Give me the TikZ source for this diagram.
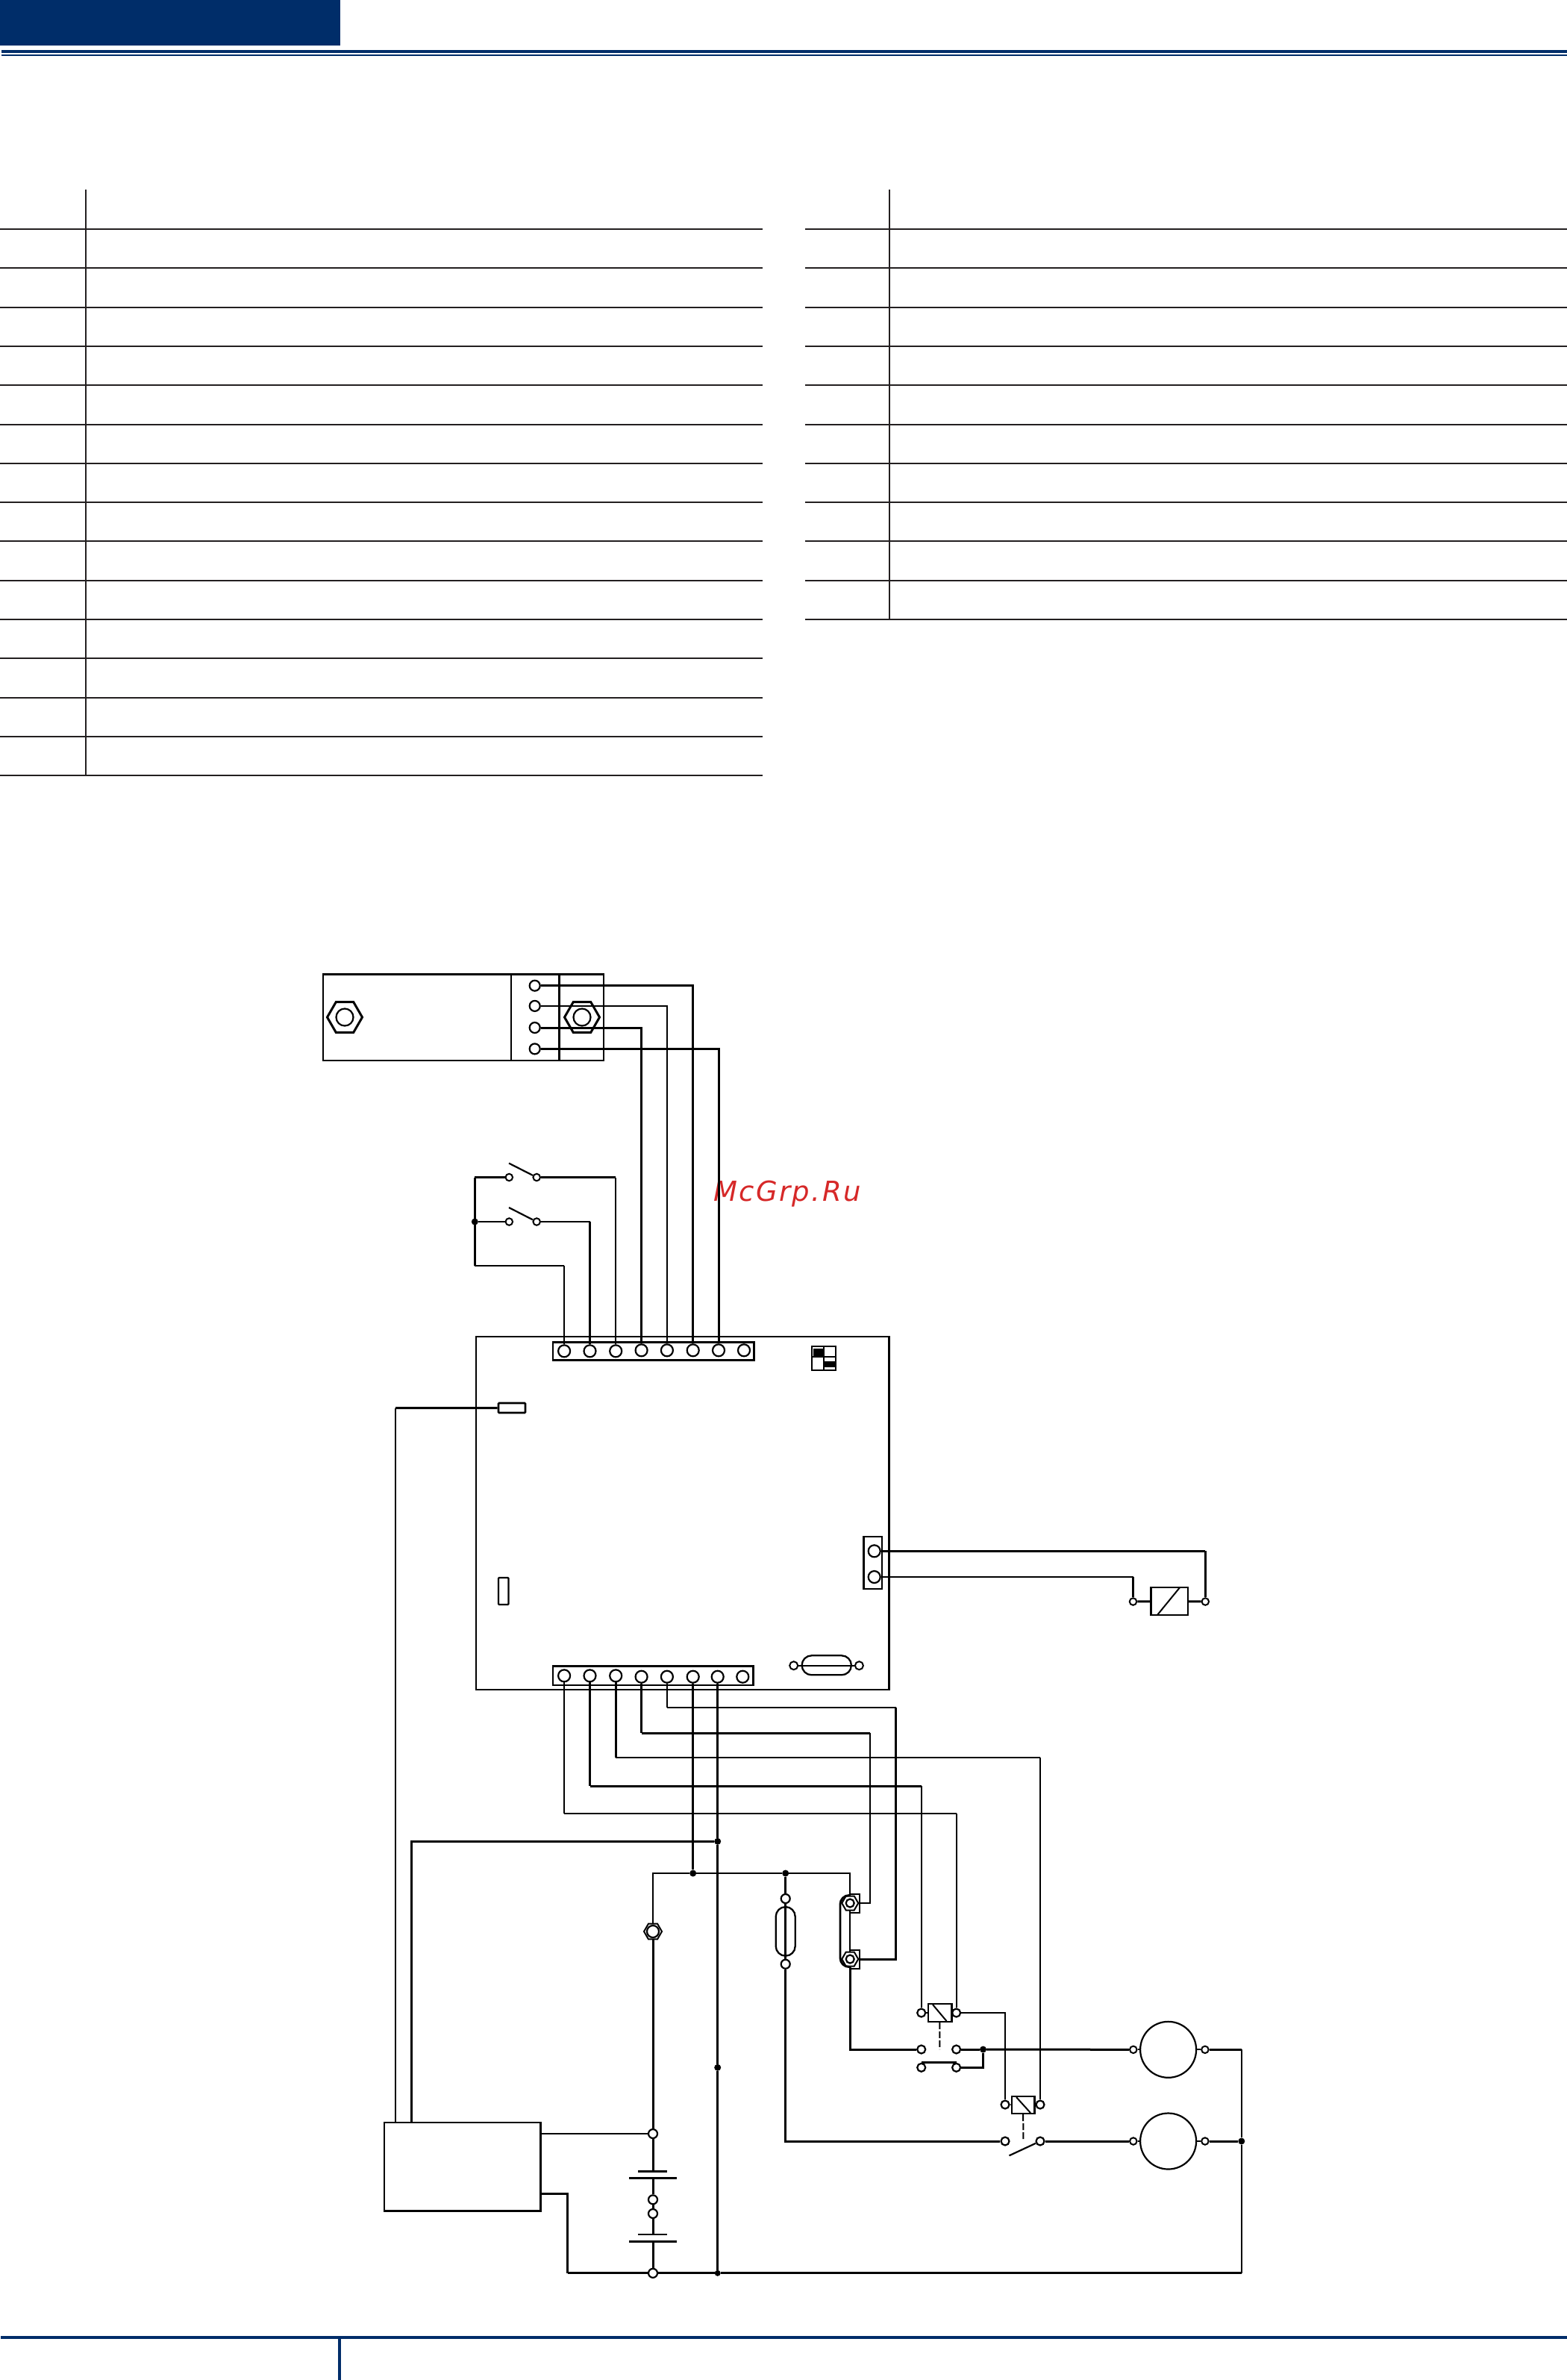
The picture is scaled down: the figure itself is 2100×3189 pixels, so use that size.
\documentclass[tikz,border=0pt]{standalone}
\usepackage{fontspec}
\usetikzlibrary{shapes.geometric,fit,calc}
\newfontfamily\wmfont[LetterSpace=6.5]{DejaVu Sans}
\definecolor{navy}{RGB}{0,45,105}
\definecolor{rule}{RGB}{35,31,32}
\definecolor{wm}{RGB}{214,40,40}
\tikzset{
  x=1pt,y=-1pt,
  thickw/.style={line width=3pt,line join=miter},
  medw/.style={line width=2.6pt,line join=miter},
  thinw/.style={line width=2pt,line join=miter},
  outline/.style={draw,line width=2.3pt,inner sep=0pt,fill=none},
  pinL/.style={circle,draw,line width=2.2pt,fill=white,inner sep=0pt,minimum size=16pt},
  pinM/.style={circle,draw,line width=2.2pt,fill=white,inner sep=0pt,minimum size=12pt},
  pinS/.style={circle,draw,line width=2pt,fill=white,inner sep=0pt,minimum size=9.5pt},
  junction/.style={circle,fill=black,inner sep=0pt,minimum size=9pt},
  hexnut/.style={regular polygon,regular polygon sides=6,draw,line width=3pt,inner sep=0pt},
  ring/.style={circle,draw,line width=2.2pt,inner sep=0pt},
  tableline/.style={draw=rule,line width=2pt},
  tablevert/.style={draw=rule,line width=1.3pt},
  linkdash/.style={line width=2pt,dash pattern=on 9pt off 3pt},
}
\begin{document}
\begin{tikzpicture}
\useasboundingbox (0,0) rectangle (2100,3189);
% page furniture
\fill[navy] (0,0) rectangle (456,61);
\fill[navy] (2,67) rectangle (2100,71);
\fill[navy] (2,73) rectangle (2100,75);
\fill[navy] (1,3130) rectangle (2100,3134);
\fill[navy] (453,3134) rectangle (457,3189);
% tables
\foreach \k in {0,...,14} {\draw[tableline] (0,307+52.3*\k) -- (1022,307+52.3*\k);}
\foreach \k in {0,...,10} {\draw[tableline] (1079,307+52.3*\k) -- (2100,307+52.3*\k);}
\draw[tablevert] (115,254) -- (115,1039);
\draw[tablevert] (1192,254) -- (1192,830);
% watermark
\node[text=wm,anchor=base west,inner sep=0pt] (mark) at (956,1609) {\fontsize{37}{37}\selectfont\wmfont\itshape McGrp.Ru};

% top-left unit
\node[outline,fit={(433,1305.4)(809,1421)}] (unit) {};
\draw[line width=2.3pt] (685,1305.4) -- (685,1421);
\draw[line width=2.3pt] (749.5,1305.4) -- (749.5,1421);
\node[hexnut,minimum size=47pt] (hexA) at (462,1363) {};
\node[ring,minimum size=23pt] (ringA) at (462,1363) {};
\node[hexnut,minimum size=47pt] (hexD) at (780,1363) {};
\node[ring,minimum size=23pt] (ringD) at (780,1363) {};
\node[pinL,minimum size=14pt] (u1) at (716.7,1320.7) {};
\node[pinL,minimum size=14pt] (u2) at (716.7,1347.9) {};
\node[pinL,minimum size=14pt] (u3) at (716.7,1377) {};
\node[pinL,minimum size=14pt] (u4) at (716.7,1405.4) {};

% switches
\node[pinS] (s1L) at (682.3,1577.5) {};
\node[pinS] (s1R) at (719.2,1577.5) {};
\node[pinS] (s2L) at (682.3,1637) {};
\node[pinS] (s2R) at (719.2,1637) {};
\node[junction] (busDot) at (636.3,1637) {};
\coordinate (busL) at (636.3,1696);
\coordinate (busT) at (636.3,1577.5);
\coordinate (cs1) at (825.2,1577.5);
\coordinate (cs2) at (790.5,1637);
\coordinate (cs3) at (756.1,1696);
\coordinate (blade1) at (682,1558.6);
\coordinate (blade2) at (682,1618);
\draw[line width=2.2pt] (blade1) -- (s1R);
\draw[line width=2.2pt] (blade2) -- (s2R);

% board
\node[outline,fit={(638,1791)(1191.4,2264)}] (board) {};
\node[outline,line width=2.6pt,fit={(741,1798.3)(1010.7,1822.7)}] (stripT) {};
\node[outline,line width=2.6pt,fit={(741,2232.3)(1009.3,2258)}] (stripB) {};
\node[pinL] (t1) at (756.1,1810.3) {};
\node[pinL] (t2) at (790.5,1810.3) {};
\node[pinL] (t3) at (825.2,1810.3) {};
\node[pinL] (t4) at (859.6,1809.3) {};
\node[pinL] (t5) at (893.9,1809.3) {};
\node[pinL] (t6) at (928.7,1809.3) {};
\node[pinL] (t7) at (963,1809.3) {};
\node[pinL] (t8) at (997,1809.3) {};
\node[pinL] (b1) at (756.1,2245.3) {};
\node[pinL] (b2) at (790.5,2245.3) {};
\node[pinL] (b3) at (825.2,2245.3) {};
\node[pinL] (b4) at (859.6,2246.7) {};
\node[pinL] (b5) at (893.9,2246.7) {};
\node[pinL] (b6) at (928.7,2246.7) {};
\node[pinL] (b7) at (961.7,2246.7) {};
\node[pinL] (b8) at (995.3,2246.7) {};
% dip switch
\fill (1090,1806.7) rectangle (1103.3,1816.7);
\fill (1104.7,1824) rectangle (1119,1832);
\node[outline,fit={(1088.2,1803.7)(1119.8,1836)}] (dip) {};
\draw[line width=2pt] (1104,1803.7) -- (1104,1836);
\draw[line width=2pt] (1088.2,1818.3) -- (1119.8,1818.3);
% board fuses and connector
\node[outline,line width=2.6pt,rounded corners=1pt,fit={(668,1880)(704,1893)}] (fuseH) {};
\node[outline,rounded corners=1pt,fit={(668,2114)(681.4,2150)}] (fuseV) {};
\node[outline,fit={(1157.4,2059)(1182.3,2128.7)}] (conn) {};
\node[pinL] (c1) at (1171.7,2078.3) {};
\node[pinL] (c2) at (1171.7,2113) {};
\node[outline,rounded corners=13pt,fit={(1074.6,2218.3)(1140.9,2244.3)}] (bodyH) {};
\node[pinS,minimum size=11pt] (bh1) at (1063.7,2231.7) {};
\node[pinS,minimum size=11pt] (bh2) at (1151.4,2231.7) {};
\draw[line width=1.9pt] (bh1) -- (bh2);

% external relay
\node[outline,fit={(1542.6,2127.3)(1592,2164)}] (rel0) {};
\draw[line width=2pt] (1550.9,2164) -- (1580.9,2127.3);
\node[pinS] (r0L) at (1518.5,2146) {};
\node[pinS] (r0R) at (1615.3,2146) {};

% control box and battery
\node[outline,line width=2.6pt,fit={(515,2844)(724.3,2962.3)}] (ctrl) {};
\coordinate (ct1) at (530,2844);
\coordinate (ct2) at (551.3,2844);
\coordinate (cf1) at (530,1886.7);
\coordinate (cr1) at (724.3,2859);
\coordinate (cr2) at (724.3,2939.7);
\coordinate (cz) at (760.7,3045.8);
\node[pinM] (batTop) at (875,2859) {};
\node[pinM] (batM1) at (875,2947.3) {};
\node[pinM] (batM2) at (875,2966) {};
\node[pinM] (batBot) at (875,3045.8) {};
\coordinate (pl1s) at (875,2909.3);
\coordinate (pl1l) at (875,2918.3);
\coordinate (pl2s) at (875,2994);
\coordinate (pl2l) at (875,3003.3);
\draw[line width=2.6pt] (855,2909.3) -- (894.3,2909.3);
\draw[line width=2.6pt] (843,2918.3) -- (906.7,2918.3);
\draw[line width=2pt] (855,2994) -- (894.3,2994);
\draw[line width=2.6pt] (843,3003.3) -- (906.7,3003.3);

% lower distribution
\node[junction] (dotR) at (961.7,2467.3) {};
\node[junction] (dotMid) at (961.7,2770.3) {};
\node[junction,minimum size=8pt] (gnd) at (961.7,3045.8) {};
\node[junction] (dotA) at (928.7,2510) {};
\node[junction] (dotB) at (1052.7,2510) {};
\node[hexnut,line width=2pt,fill=white,minimum size=24pt] (hexB) at (875,2588) {};
\node[ring,fill=white,minimum size=16pt] (ringB) at (875,2588) {};
\node[pinM] (fT) at (1052.7,2544) {};
\node[pinM] (fB) at (1052.7,2631.7) {};
\node[outline,rounded corners=13pt,fit={(1039.7,2555)(1065.7,2620.7)}] (bodyV) {};
% double stud
\node[outline,line width=1.9pt,fit={(1139.2,2537.7)(1152,2562.7)}] (brU) {};
\node[outline,line width=1.9pt,fit={(1139.2,2612.7)(1152,2637.7)}] (brL) {};
\node[hexnut,line width=2pt,fill=white,minimum size=22pt] (hexU) at (1139.2,2550) {};
\node[hexnut,line width=2pt,fill=white,minimum size=22pt] (hexL) at (1139.2,2625) {};
\node[ring,minimum size=11pt] (ringU) at (1139.2,2550) {};
\node[ring,minimum size=11pt] (ringL) at (1139.2,2625) {};
\coordinate (pillL) at (1126,2590);
\draw[line width=2.9pt,rounded corners=12pt] (hexU.north) -| (pillL) |- (hexL.south);

% relays and contacts
\node[outline,fit={(1243.7,2685.3)(1275.4,2708.7)}] (rel1) {};
\draw[line width=2pt] (1250,2686) -- (1268.5,2708);
\node[pinM,minimum size=11pt] (r1L) at (1234.7,2697) {};
\node[pinM,minimum size=11pt] (r1R) at (1281.6,2697) {};
\node[pinM,minimum size=11pt] (k1) at (1234.7,2746) {};
\node[pinM,minimum size=11pt] (k2) at (1281.6,2746) {};
\node[pinM,minimum size=11pt] (k3) at (1234.7,2770.3) {};
\node[pinM,minimum size=11pt] (k4) at (1281.6,2770.3) {};
\coordinate (link1) at (1259.3,2746);
\node[junction] (kDot) at (1317.5,2746) {};
\coordinate (kCorner) at (1317.5,2770.3);
\node[outline,fit={(1355.8,2808.7)(1386.4,2832)}] (rel2) {};
\draw[line width=2pt] (1362,2810) -- (1381,2831);
\node[pinM,minimum size=11pt] (r2L) at (1347,2820) {};
\node[pinM,minimum size=11pt] (r2R) at (1394,2820) {};
\node[pinM,minimum size=11pt] (q1) at (1347,2869) {};
\node[pinM,minimum size=11pt] (q2) at (1394,2869) {};
\coordinate (link2) at (1371.4,2869);
\coordinate (blade3) at (1352.5,2888.3);

% motors
\node[ring,minimum size=75pt] (m1) at (1565.6,2746.3) {};
\node[ring,minimum size=75pt] (m2) at (1565.6,2869) {};
\node[pinS] (m1L) at (1518.8,2746.3) {};
\node[pinS] (m1R) at (1614.9,2746.3) {};
\node[pinS] (m2L) at (1518.8,2869) {};
\node[pinS] (m2R) at (1614.9,2869) {};
\node[junction] (busR) at (1663.8,2869) {};
\coordinate (busC) at (1663.8,2746.3);
\coordinate (busG) at (1663.8,3045.8);

% routing corners
\coordinate (g1) at (756.1,2430);
\coordinate (g2) at (790.5,2393.3);
\coordinate (g3) at (825.2,2355);
\coordinate (g4) at (859.6,2322);
\coordinate (g5) at (893.9,2288);
\coordinate (w1) at (1281.6,2430);
\coordinate (w2) at (1234.7,2393.3);
\coordinate (w3) at (1394,2355);
\coordinate (w4) at (1166.4,2322);
\coordinate (w5) at (1200.8,2288);
\coordinate (rc1) at (1615.3,2078.3);
\coordinate (rc2) at (1518.5,2113);

% top wiring
\draw[thickw] (t7) |- (u4);
\draw[thickw] (t6) |- (u1);
\draw[thickw] (t4) |- (u3);
\draw[thinw] (t5) |- (u2);
\draw[thickw] (t2) -- (cs2);
\draw[thinw] (cs2) -- (s2R);
\draw[thinw] (t3) -- (cs1);
\draw[thickw] (cs1) -- (s1R);
\draw[thinw] (t1) -- (cs3);
\draw[medw] (cs3) -- (busL);
\draw[medw] (busL) -- (busT);
\draw[medw] (busT) -- (s1L);
\draw[thinw] (busDot) -- (s2L);
% board side wiring
\draw[thickw] (fuseH) -- (cf1);
\draw[medw] (cf1) -- (ct1);
\draw[thickw] (c1) -- (rc1);
\draw[medw] (rc1) -- (r0R);
\draw[medw] (c2) -- (rc2);
\draw[medw] (rc2) -- (r0L);
\draw[thickw] (r0L) -- (rel0);
\draw[thickw] (rel0) -- (r0R);
% lower wiring
\draw[thickw] (b7) -- (dotR);
\draw[thickw] (dotR) -- (dotMid);
\draw[thickw] (dotMid) -- (gnd);
\draw[thickw] (dotR) -| (ct2);
\draw[thickw] (b6) -- (dotA);
\draw[thinw] (hexB) |- (dotA);
\draw[thinw] (dotA) -- (dotB);
\draw[thinw] (dotB) -| (hexU);
\draw[thickw] (dotB) -- (fT);
\draw[thickw] (fT) -- (fB);
\draw[thickw] (fB) |- (q1);
\draw[thinw] (hexU) -- (hexL);
\draw[thickw] (hexL) |- (k1);
\draw[thickw] (b4) -- (g4);
\draw[thickw] (g4) -- (w4);
\draw[thinw] (w4) |- (hexU);
\draw[thinw] (b5) -- (g5);
\draw[thinw] (g5) -- (w5);
\draw[thickw] (w5) |- (hexL);
\draw[medw] (b3) -- (g3);
\draw[thinw] (g3) -- (w3);
\draw[thinw] (w3) -- (r2R);
\draw[medw] (b2) -- (g2);
\draw[thickw] (g2) -- (w2);
\draw[thinw] (w2) -- (r1L);
\draw[medw] (b1) -- (g1);
\draw[thinw] (g1) -- (w1);
\draw[thinw] (w1) -- (r1R);
\draw[thinw] (r1R) -| (r2L);
\draw[thinw] (r1L) -- (rel1);
\draw[thinw] (rel1) -- (r1R);
\draw[thinw] (r2L) -- (rel2);
\draw[thinw] (rel2) -- (r2R);
\draw[linkdash] (rel1) -- (link1);
\draw[linkdash] (rel2) -- (link2);
\draw[thickw] (k2) -- (kDot);
\draw[thickw] (kDot) -- (m1L);
\draw[thickw] (kDot) -- (kCorner) -- (k4);
\draw[medw] (k3.north) -- (k4.north);
\draw[thickw] (q2) -- (m2L);
\draw[line width=2.2pt] (q2) -- (blade3);
\draw[thinw] (m1L) -- (m1);
\draw[thinw] (m1) -- (m1R);
\draw[thinw] (m2L) -- (m2);
\draw[thinw] (m2) -- (m2R);
\draw[thickw] (m1R) -- (busC);
\draw[medw] (busC) -- (busR);
\draw[thickw] (m2R) -- (busR);
\draw[medw] (busR) -- (busG);
\draw[thickw] (busG) -- (gnd);
\draw[thickw] (gnd) -- (batBot);
% battery and control box wiring
\draw[thickw] (hexB) -- (batTop);
\draw[thinw] (cr1) -- (batTop);
\draw[thickw] (batTop) -- (pl1s);
\draw[thickw] (pl1l) -- (batM1);
\draw[thickw] (batM1) -- (batM2);
\draw[thickw] (batM2) -- (pl2s);
\draw[thickw] (pl2l) -- (batBot);
\draw[thickw] (cr2) -| (cz);
\draw[thickw] (cz) -- (batBot);
\end{tikzpicture}
\end{document}
